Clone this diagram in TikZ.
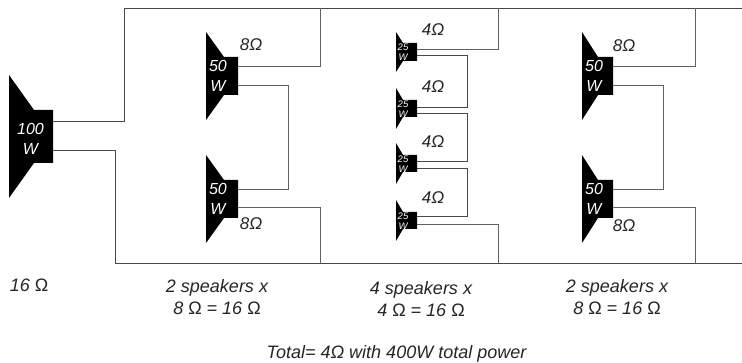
\documentclass[tikz,border=0pt]{standalone}
\usepackage{fontspec}
\setmainfont{Liberation Sans}
\newcommand{\spk}[8]{% name, xleft, xflare, xright, ytop apex, y rect top, y rect bottom, y bottom apex
  \fill[black] (#2,#5) -- (#3,#6) -- (#4,#6) -- (#4,#7) -- (#3,#7) -- (#2,#8) -- cycle;
  \coordinate (#1) at (#4,#6);
}
\newcommand{\Om}{{\upshape Ω}}
\tikzset{
  x=1pt,y=-1pt,
  wire/.style={draw=black!62,line width=0.9pt,line join=miter},
  rail/.style={draw=black!72,line width=0.9pt,line join=miter},
  lab/.style={font=\itshape\fontsize{18}{22.5}\selectfont,text=black!85,inner sep=0pt,align=center},
  ohm/.style={font=\itshape\fontsize{17}{20}\selectfont,text=black!85,inner sep=0pt,align=center},
  wat/.style={font=\itshape\fontsize{16}{19.5}\selectfont,text=white,inner sep=0pt,align=center},
  wats/.style={font=\itshape\fontsize{9.5}{10.5}\selectfont,text=white,inner sep=0pt,align=center},
}
\begin{document}
\begin{tikzpicture}
\useasboundingbox[fill=white] (0,0) rectangle (742,363);
% speakers
\spk{m}{9}{34}{53}{75}{110}{163}{198}
\spk{a}{206}{224}{238}{32}{57}{95}{120}
\spk{b}{206}{224}{238}{155}{180}{218}{243}
\spk{c}{582}{598}{613}{32}{57}{95}{120}
\spk{d}{582}{598}{613}{155}{180}{218}{243}
\spk{e}{396}{403}{417}{32}{43}{61}{72}
\spk{f}{396}{403}{417}{88}{100}{117}{129}
\spk{g}{396}{403}{417}{143}{155}{172}{184}
\spk{h}{396}{403}{417}{200}{212}{229}{241}
% wattage labels
\node[wat] (tm) at (30.5,139) {100\\W};
\node[wat] (ta) at (218,76) {50\\W};
\node[wat] (tb) at (218,199) {50\\W};
\node[wat] (tc) at (594,76) {50\\W};
\node[wat] (td) at (594,199) {50\\W};
\node[wats] (te) at (403,52) {25\\W};
\node[wats] (tf) at (403,109) {25\\W};
\node[wats] (tg) at (403,164) {25\\W};
\node[wats] (th) at (403,221) {25\\W};
% terminals
\coordinate (m1) at (53,121); \coordinate (m2) at (53,150);
\coordinate (a1) at (238,66); \coordinate (a2) at (238,85);
\coordinate (b1) at (238,189); \coordinate (b2) at (238,207);
\coordinate (c1) at (613,66); \coordinate (c2) at (613,85);
\coordinate (d1) at (613,189); \coordinate (d2) at (613,207);
\coordinate (e1) at (417,49); \coordinate (e2) at (417,55);
\coordinate (f1) at (417,107); \coordinate (f2) at (417,113);
\coordinate (g1) at (417,161); \coordinate (g2) at (417,168);
\coordinate (h1) at (417,216); \coordinate (h2) at (417,224);
\coordinate (railTL) at (124,8.5); \coordinate (railTR) at (742,8.5);
\coordinate (railBL) at (115,263); \coordinate (railBR) at (742,263);
% main rails
\draw[rail] (m1) -| (railTL) -- (railTR);
\draw[rail] (m2) -| (railBL) -- (railBR);
% column 1
\draw[wire] (a1) -- (320,66) -- (320,8.5);
\draw[wire] (a2) -- (288,85) -- (288,189) -- (b1);
\draw[wire] (b2) -- (320,207) -- (320,263);
% column 2
\draw[wire] (e1) -- (498,49) -- (498,8.5);
\draw[rail] (e2) -- (467,55) -- (467,107) -- (f1);
\draw[rail] (f2) -- (467,113) -- (467,161) -- (g1);
\draw[rail] (g2) -- (467,168) -- (467,216) -- (h1);
\draw[wire] (h2) -- (498,224) -- (498,263);
% column 3
\draw[wire] (c1) -- (695,66) -- (695,8.5);
\draw[wire] (c2) -- (663,85) -- (663,189) -- (d1);
\draw[wire] (d2) -- (695,207) -- (695,263);
% ohm labels
\node[ohm] (o1) at (251,45) {8Ω};
\node[ohm] (o2) at (251,224) {8Ω};
\node[ohm] (o3) at (433,30) {4Ω};
\node[ohm] (o4) at (433,87) {4Ω};
\node[ohm] (o5) at (433,142) {4Ω};
\node[ohm] (o6) at (433,198) {4Ω};
\node[ohm] (o7) at (624,46) {8Ω};
\node[ohm] (o8) at (624,226) {8Ω};
% captions
\node[lab] (c0) at (29,285) {16 \Om};
\node[lab] (cap1) at (217,297) {2 speakers x\\8 \Om{} = 16 \Om};
\node[lab] (cap2) at (421,299) {4 speakers x\\4 \Om{} = 16 \Om};
\node[lab] (cap3) at (617,297) {2 speakers x\\8 \Om{} = 16 \Om};
\node[lab] (tot) at (396.5,354) {Total= 4Ω with 400W total power};
\end{tikzpicture}
\end{document}
